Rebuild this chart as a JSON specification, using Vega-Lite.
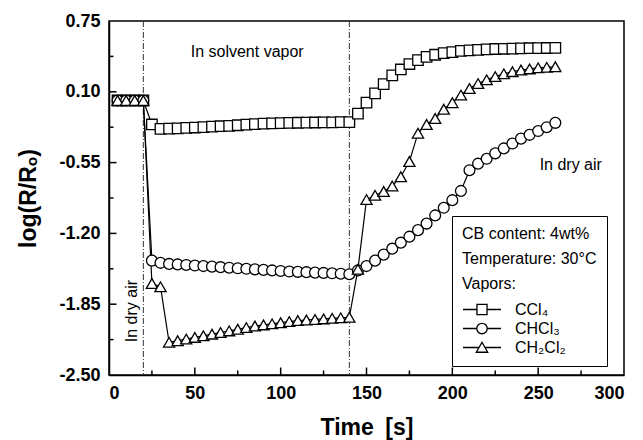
{
  "$schema": "https://vega.github.io/schema/vega-lite/v6.json",
  "width": 515,
  "height": 354,
  "autosize": {"type": "none"},
  "padding": {"left": 109, "top": 21, "right": 19, "bottom": 65},
  "background": "white",
  "config": {
    "font": "Liberation Sans",
    "view": {"stroke": "black", "strokeWidth": 1.5},
    "axis": {
      "grid": false,
      "domainColor": "black",
      "domainWidth": 1.5,
      "labelColor": "black",
      "titleColor": "black",
      "labelFont": "Liberation Sans",
      "titleFont": "Liberation Sans",
      "labelFontWeight": "bold",
      "labelFontSize": 18,
      "titleFontWeight": "bold",
      "titleFontSize": 23
    }
  },
  "datasets": {
    "series": [
      {"t": 5, "v": 0.02, "s": "CCl₄"}, {"t": 10, "v": 0.02, "s": "CCl₄"}, {"t": 15, "v": 0.02, "s": "CCl₄"}, {"t": 20, "v": 0.02, "s": "CCl₄"},
      {"t": 25, "v": -0.2, "s": "CCl₄"}, {"t": 30, "v": -0.24, "s": "CCl₄"}, {"t": 35, "v": -0.238, "s": "CCl₄"}, {"t": 40, "v": -0.235, "s": "CCl₄"},
      {"t": 45, "v": -0.232, "s": "CCl₄"}, {"t": 50, "v": -0.228, "s": "CCl₄"}, {"t": 55, "v": -0.224, "s": "CCl₄"}, {"t": 60, "v": -0.22, "s": "CCl₄"},
      {"t": 65, "v": -0.216, "s": "CCl₄"}, {"t": 70, "v": -0.212, "s": "CCl₄"}, {"t": 75, "v": -0.207, "s": "CCl₄"}, {"t": 80, "v": -0.202, "s": "CCl₄"},
      {"t": 85, "v": -0.197, "s": "CCl₄"}, {"t": 90, "v": -0.193, "s": "CCl₄"}, {"t": 95, "v": -0.19, "s": "CCl₄"}, {"t": 100, "v": -0.188, "s": "CCl₄"},
      {"t": 105, "v": -0.186, "s": "CCl₄"}, {"t": 110, "v": -0.184, "s": "CCl₄"}, {"t": 115, "v": -0.183, "s": "CCl₄"}, {"t": 120, "v": -0.182, "s": "CCl₄"},
      {"t": 125, "v": -0.181, "s": "CCl₄"}, {"t": 130, "v": -0.18, "s": "CCl₄"}, {"t": 135, "v": -0.179, "s": "CCl₄"}, {"t": 140, "v": -0.178, "s": "CCl₄"},
      {"t": 145, "v": -0.1, "s": "CCl₄"}, {"t": 150, "v": 0.0, "s": "CCl₄"}, {"t": 155, "v": 0.085, "s": "CCl₄"}, {"t": 160, "v": 0.17, "s": "CCl₄"},
      {"t": 165, "v": 0.25, "s": "CCl₄"}, {"t": 170, "v": 0.305, "s": "CCl₄"}, {"t": 175, "v": 0.355, "s": "CCl₄"}, {"t": 180, "v": 0.39, "s": "CCl₄"},
      {"t": 185, "v": 0.42, "s": "CCl₄"}, {"t": 190, "v": 0.44, "s": "CCl₄"}, {"t": 195, "v": 0.455, "s": "CCl₄"}, {"t": 200, "v": 0.465, "s": "CCl₄"},
      {"t": 205, "v": 0.475, "s": "CCl₄"}, {"t": 210, "v": 0.48, "s": "CCl₄"}, {"t": 215, "v": 0.485, "s": "CCl₄"}, {"t": 220, "v": 0.49, "s": "CCl₄"},
      {"t": 225, "v": 0.493, "s": "CCl₄"}, {"t": 230, "v": 0.495, "s": "CCl₄"}, {"t": 235, "v": 0.497, "s": "CCl₄"}, {"t": 240, "v": 0.499, "s": "CCl₄"},
      {"t": 245, "v": 0.5, "s": "CCl₄"}, {"t": 250, "v": 0.501, "s": "CCl₄"}, {"t": 255, "v": 0.502, "s": "CCl₄"}, {"t": 260, "v": 0.503, "s": "CCl₄"},

      {"t": 5, "v": 0.02, "s": "CHCl₃"}, {"t": 10, "v": 0.02, "s": "CHCl₃"}, {"t": 15, "v": 0.02, "s": "CHCl₃"}, {"t": 20, "v": 0.02, "s": "CHCl₃"},
      {"t": 25, "v": -1.45, "s": "CHCl₃"}, {"t": 30, "v": -1.47, "s": "CHCl₃"}, {"t": 35, "v": -1.48, "s": "CHCl₃"}, {"t": 40, "v": -1.485, "s": "CHCl₃"},
      {"t": 45, "v": -1.49, "s": "CHCl₃"}, {"t": 50, "v": -1.495, "s": "CHCl₃"}, {"t": 55, "v": -1.5, "s": "CHCl₃"}, {"t": 60, "v": -1.505, "s": "CHCl₃"},
      {"t": 65, "v": -1.51, "s": "CHCl₃"}, {"t": 70, "v": -1.515, "s": "CHCl₃"}, {"t": 75, "v": -1.52, "s": "CHCl₃"}, {"t": 80, "v": -1.525, "s": "CHCl₃"},
      {"t": 85, "v": -1.53, "s": "CHCl₃"}, {"t": 90, "v": -1.535, "s": "CHCl₃"}, {"t": 95, "v": -1.54, "s": "CHCl₃"}, {"t": 100, "v": -1.545, "s": "CHCl₃"},
      {"t": 105, "v": -1.55, "s": "CHCl₃"}, {"t": 110, "v": -1.553, "s": "CHCl₃"}, {"t": 115, "v": -1.556, "s": "CHCl₃"}, {"t": 120, "v": -1.56, "s": "CHCl₃"},
      {"t": 125, "v": -1.563, "s": "CHCl₃"}, {"t": 130, "v": -1.566, "s": "CHCl₃"}, {"t": 135, "v": -1.57, "s": "CHCl₃"}, {"t": 140, "v": -1.575, "s": "CHCl₃"},
      {"t": 145, "v": -1.54, "s": "CHCl₃"}, {"t": 150, "v": -1.5, "s": "CHCl₃"}, {"t": 155, "v": -1.45, "s": "CHCl₃"}, {"t": 160, "v": -1.395, "s": "CHCl₃"},
      {"t": 165, "v": -1.34, "s": "CHCl₃"}, {"t": 170, "v": -1.285, "s": "CHCl₃"}, {"t": 175, "v": -1.23, "s": "CHCl₃"}, {"t": 180, "v": -1.17, "s": "CHCl₃"},
      {"t": 185, "v": -1.11, "s": "CHCl₃"}, {"t": 190, "v": -1.035, "s": "CHCl₃"}, {"t": 195, "v": -0.965, "s": "CHCl₃"}, {"t": 200, "v": -0.895, "s": "CHCl₃"},
      {"t": 205, "v": -0.81, "s": "CHCl₃"}, {"t": 210, "v": -0.62, "s": "CHCl₃"}, {"t": 215, "v": -0.56, "s": "CHCl₃"}, {"t": 220, "v": -0.515, "s": "CHCl₃"},
      {"t": 225, "v": -0.465, "s": "CHCl₃"}, {"t": 230, "v": -0.42, "s": "CHCl₃"}, {"t": 235, "v": -0.375, "s": "CHCl₃"}, {"t": 240, "v": -0.33, "s": "CHCl₃"},
      {"t": 245, "v": -0.295, "s": "CHCl₃"}, {"t": 250, "v": -0.26, "s": "CHCl₃"}, {"t": 255, "v": -0.225, "s": "CHCl₃"}, {"t": 260, "v": -0.185, "s": "CHCl₃"},

      {"t": 5, "v": 0.02, "s": "CH₂Cl₂"}, {"t": 10, "v": 0.02, "s": "CH₂Cl₂"}, {"t": 15, "v": 0.02, "s": "CH₂Cl₂"}, {"t": 20, "v": 0.02, "s": "CH₂Cl₂"},
      {"t": 25, "v": -1.66, "s": "CH₂Cl₂"}, {"t": 30, "v": -1.69, "s": "CH₂Cl₂"}, {"t": 35, "v": -2.2, "s": "CH₂Cl₂"}, {"t": 40, "v": -2.185, "s": "CH₂Cl₂"},
      {"t": 45, "v": -2.17, "s": "CH₂Cl₂"}, {"t": 50, "v": -2.155, "s": "CH₂Cl₂"}, {"t": 55, "v": -2.14, "s": "CH₂Cl₂"}, {"t": 60, "v": -2.125, "s": "CH₂Cl₂"},
      {"t": 65, "v": -2.11, "s": "CH₂Cl₂"}, {"t": 70, "v": -2.095, "s": "CH₂Cl₂"}, {"t": 75, "v": -2.08, "s": "CH₂Cl₂"}, {"t": 80, "v": -2.065, "s": "CH₂Cl₂"},
      {"t": 85, "v": -2.05, "s": "CH₂Cl₂"}, {"t": 90, "v": -2.04, "s": "CH₂Cl₂"}, {"t": 95, "v": -2.03, "s": "CH₂Cl₂"}, {"t": 100, "v": -2.02, "s": "CH₂Cl₂"},
      {"t": 105, "v": -2.01, "s": "CH₂Cl₂"}, {"t": 110, "v": -2.0, "s": "CH₂Cl₂"}, {"t": 115, "v": -1.995, "s": "CH₂Cl₂"}, {"t": 120, "v": -1.99, "s": "CH₂Cl₂"},
      {"t": 125, "v": -1.985, "s": "CH₂Cl₂"}, {"t": 130, "v": -1.98, "s": "CH₂Cl₂"}, {"t": 135, "v": -1.975, "s": "CH₂Cl₂"}, {"t": 140, "v": -1.97, "s": "CH₂Cl₂"},
      {"t": 145, "v": -1.53, "s": "CH₂Cl₂"}, {"t": 150, "v": -0.89, "s": "CH₂Cl₂"}, {"t": 155, "v": -0.85, "s": "CH₂Cl₂"}, {"t": 160, "v": -0.815, "s": "CH₂Cl₂"},
      {"t": 165, "v": -0.765, "s": "CH₂Cl₂"}, {"t": 170, "v": -0.68, "s": "CH₂Cl₂"}, {"t": 175, "v": -0.54, "s": "CH₂Cl₂"}, {"t": 180, "v": -0.28, "s": "CH₂Cl₂"},
      {"t": 185, "v": -0.2, "s": "CH₂Cl₂"}, {"t": 190, "v": -0.145, "s": "CH₂Cl₂"}, {"t": 195, "v": -0.06, "s": "CH₂Cl₂"}, {"t": 200, "v": 0.0, "s": "CH₂Cl₂"},
      {"t": 205, "v": 0.07, "s": "CH₂Cl₂"}, {"t": 210, "v": 0.13, "s": "CH₂Cl₂"}, {"t": 215, "v": 0.175, "s": "CH₂Cl₂"}, {"t": 220, "v": 0.21, "s": "CH₂Cl₂"},
      {"t": 225, "v": 0.24, "s": "CH₂Cl₂"}, {"t": 230, "v": 0.265, "s": "CH₂Cl₂"}, {"t": 235, "v": 0.285, "s": "CH₂Cl₂"}, {"t": 240, "v": 0.3, "s": "CH₂Cl₂"},
      {"t": 245, "v": 0.31, "s": "CH₂Cl₂"}, {"t": 250, "v": 0.32, "s": "CH₂Cl₂"}, {"t": 255, "v": 0.325, "s": "CH₂Cl₂"}, {"t": 260, "v": 0.33, "s": "CH₂Cl₂"}
    ],
    "switches": [{"t": 20}, {"t": 140}],
    "xticks": [
      {"t": 50, "kind": "major"}, {"t": 100, "kind": "major"}, {"t": 150, "kind": "major"}, {"t": 200, "kind": "major"}, {"t": 250, "kind": "major"},
      {"t": 25, "kind": "minor"}, {"t": 75, "kind": "minor"}, {"t": 125, "kind": "minor"}, {"t": 175, "kind": "minor"}, {"t": 225, "kind": "minor"}, {"t": 275, "kind": "minor"}
    ],
    "yticks": [
      {"v": -1.85, "kind": "major"}, {"v": -1.2, "kind": "major"}, {"v": -0.55, "kind": "major"}, {"v": 0.1, "kind": "major"},
      {"v": -2.175, "kind": "minor"}, {"v": -1.525, "kind": "minor"}, {"v": -0.875, "kind": "minor"}, {"v": -0.225, "kind": "minor"}, {"v": 0.425, "kind": "minor"}
    ],
    "notes": [
      {"label": "In solvent vapor", "where": "vapor"},
      {"label": "In dry air", "where": "after"},
      {"label": "In dry air", "where": "before"}
    ]
  },
  "resolve": {
    "axis": {"x": "independent", "y": "independent"},
    "scale": {"shape": "independent", "size": "independent"},
    "legend": {"shape": "independent", "size": "independent"}
  },
  "layer": [
    {
      "data": {"name": "switches"},
      "mark": {"type": "rule", "strokeDash": [6, 2, 1, 2], "color": "#333333", "strokeWidth": 1},
      "encoding": {
        "x": {"field": "t", "type": "quantitative", "scale": {"domain": [0, 300], "nice": false, "zero": false}, "axis": null}
      }
    },
    {
      "data": {"name": "xticks"},
      "transform": [{"filter": "datum.kind == 'major'"}],
      "mark": {"type": "tick", "orient": "vertical", "color": "black", "thickness": 1.5, "size": 15, "clip": true, "opacity": 1},
      "encoding": {
        "x": {"field": "t", "type": "quantitative", "axis": null},
        "y": {"datum": -2.5, "type": "quantitative", "axis": null}
      }
    },
    {
      "data": {"name": "xticks"},
      "transform": [{"filter": "datum.kind == 'minor'"}],
      "mark": {"type": "tick", "orient": "vertical", "color": "black", "thickness": 1.5, "size": 9, "clip": true, "opacity": 1},
      "encoding": {
        "x": {"field": "t", "type": "quantitative", "axis": null},
        "y": {"datum": -2.5, "type": "quantitative", "axis": null}
      }
    },
    {
      "data": {"name": "yticks"},
      "transform": [{"filter": "datum.kind == 'major'"}],
      "mark": {"type": "tick", "orient": "horizontal", "color": "black", "thickness": 1.5, "size": 15, "clip": true, "opacity": 1},
      "encoding": {
        "y": {"field": "v", "type": "quantitative", "axis": null},
        "x": {"datum": 0, "type": "quantitative", "axis": null}
      }
    },
    {
      "data": {"name": "yticks"},
      "transform": [{"filter": "datum.kind == 'minor'"}],
      "mark": {"type": "tick", "orient": "horizontal", "color": "black", "thickness": 1.5, "size": 9, "clip": true, "opacity": 1},
      "encoding": {
        "y": {"field": "v", "type": "quantitative", "axis": null},
        "x": {"datum": 0, "type": "quantitative", "axis": null}
      }
    },
    {
      "data": {"name": "series"},
      "mark": {"type": "line", "color": "black", "strokeWidth": 1.2},
      "encoding": {
        "x": {
          "field": "t", "type": "quantitative",
          "scale": {"domain": [0, 300], "nice": false, "zero": false},
          "axis": {
            "orient": "bottom",
            "values": [0, 50, 100, 150, 200, 250, 300],
            "format": "d",
            "ticks": false,
            "labelPadding": 9,
            "title": "Time\u2002[s]",
            "titleY": 52,
            "titleBaseline": "middle"
          }
        },
        "y": {
          "field": "v", "type": "quantitative",
          "scale": {"domain": [-2.5, 0.75], "nice": false, "zero": false},
          "axis": {
            "orient": "left",
            "values": [-2.5, -1.85, -1.2, -0.55, 0.1, 0.75],
            "labelExpr": "replace(format(datum.value, '.2f'), '\u2212', '-')",
            "ticks": false,
            "labelPadding": 9,
            "title": "log(R/Rₒ)",
            "titleX": -81,
            "titleBaseline": "middle"
          }
        },
        "detail": {"field": "s", "type": "nominal"},
        "order": {"field": "t", "type": "quantitative"}
      }
    },
    {
      "data": {"name": "series"},
      "mark": {"type": "point", "filled": false, "fill": "white", "fillOpacity": 1, "stroke": "black", "strokeWidth": 1.3, "opacity": 1},
      "encoding": {
        "x": {"field": "t", "type": "quantitative", "axis": null},
        "y": {"field": "v", "type": "quantitative", "axis": null},
        "shape": {
          "field": "s", "type": "nominal",
          "scale": {"domain": ["CCl₄", "CHCl₃", "CH₂Cl₂"], "range": ["square", "circle", "triangle-up"]},
          "legend": null
        },
        "size": {
          "field": "s", "type": "nominal",
          "scale": {"domain": ["CCl₄", "CHCl₃", "CH₂Cl₂"], "range": [110, 125, 150]},
          "legend": null
        }
      }
    },
    {
      "data": {"name": "series"},
      "mark": {"type": "point", "opacity": 0, "size": 361},
      "encoding": {
        "x": {"field": "t", "type": "quantitative", "axis": null},
        "y": {"field": "v", "type": "quantitative", "axis": null},
        "shape": {
          "field": "s", "type": "nominal",
          "scale": {
            "domain": ["CCl₄", "CHCl₃", "CH₂Cl₂"],
            "range": [
              "M-1,0H0.47M1.53,0H3M0.47,-0.53H1.53V0.53H0.47Z",
              "M-1,0H0.45M1.55,0H3M0.45,0A0.55,0.55 0 1,0 1.55,0A0.55,0.55 0 1,0 0.45,0Z",
              "M-1,0H0.69M1.31,0H3M1,-0.55L1.6,0.5H0.4Z"
            ]
          },
          "legend": {
            "orient": "none",
            "legendX": 343,
            "legendY": 195,
            "title": ["CB content: 4wt%", "Temperature: 30°C", "Vapors:"],
            "titleFont": "Liberation Sans",
            "titleFontSize": 16,
            "titleFontWeight": "normal",
            "titleColor": "black",
            "titleLineHeight": 25,
            "titlePadding": 7,
            "labelFont": "Liberation Sans",
            "labelFontSize": 16,
            "labelColor": "black",
            "labelOffset": 32,
            "rowPadding": 0,
            "symbolSize": 361,
            "padding": 10,
            "strokeColor": "black",
            "fillColor": "white",
            "cornerRadius": 0,
            "symbolOpacity": 1,
            "symbolFillColor": "white",
            "symbolStrokeColor": "black",
            "symbolStrokeWidth": 1.3,
            "encode": {
              "symbols": {
                "update": {
                  "fill": {"value": "white"},
                  "stroke": {"value": "black"},
                  "strokeWidth": {"value": 1.3},
                  "opacity": {"value": 1}
                }
              }
            }
          }
        }
      }
    },
    {
      "data": {"name": "notes"},
      "transform": [{"filter": "datum.where == 'vapor'"}],
      "mark": {"type": "text", "fontSize": 16, "font": "Liberation Sans", "color": "black", "align": "center", "baseline": "middle"},
      "encoding": {
        "x": {"datum": 80.5, "type": "quantitative", "axis": null},
        "y": {"datum": 0.465, "type": "quantitative", "axis": null},
        "text": {"field": "label"}
      }
    },
    {
      "data": {"name": "notes"},
      "transform": [{"filter": "datum.where == 'after'"}],
      "mark": {"type": "text", "fontSize": 16, "font": "Liberation Sans", "color": "black", "align": "center", "baseline": "middle"},
      "encoding": {
        "x": {"datum": 269, "type": "quantitative", "axis": null},
        "y": {"datum": -0.572, "type": "quantitative", "axis": null},
        "text": {"field": "label"}
      }
    },
    {
      "data": {"name": "notes"},
      "transform": [{"filter": "datum.where == 'before'"}],
      "mark": {"type": "text", "fontSize": 16, "font": "Liberation Sans", "color": "black", "align": "center", "baseline": "middle", "angle": 270},
      "encoding": {
        "x": {"datum": 13.4, "type": "quantitative", "axis": null},
        "y": {"datum": -1.913, "type": "quantitative", "axis": null},
        "text": {"field": "label"}
      }
    }
  ]
}
